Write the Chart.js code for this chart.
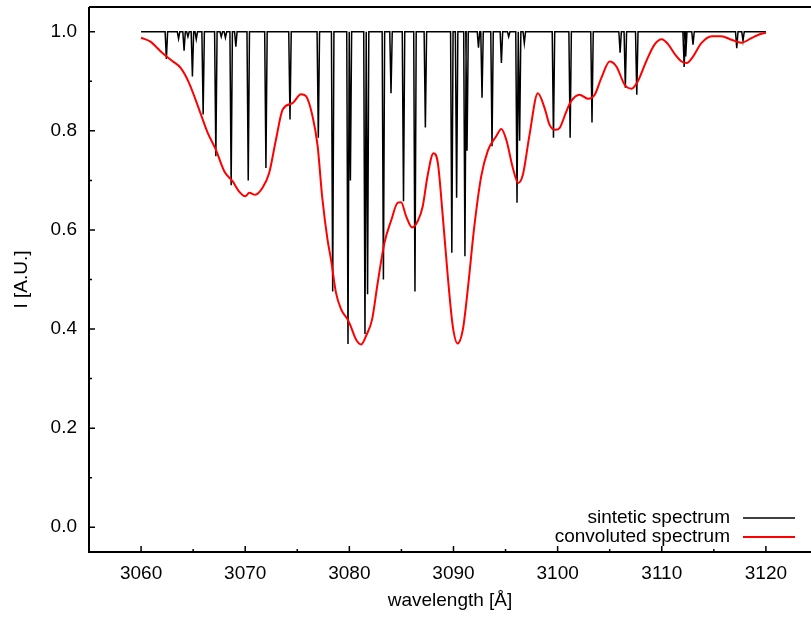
<!DOCTYPE html>
<html>
<head>
<meta charset="utf-8">
<script src="https://cdn.jsdelivr.net/npm/chart.js@4.4.0/dist/chart.umd.min.js"></script>
<style>
  html, body { margin: 0; padding: 0; background: #fff; }
</style>
</head>
<body>
<canvas id="spectrum" width="811" height="617"></canvas>
<script>
// absorption lines of the synthetic spectrum: centre [Å] and minimum intensity
const lineWl = [3062.43, 3063.6, 3064.13, 3064.5, 3064.93, 3065.3, 3065.96, 3067.18, 3067.7, 3068.1,
  3068.65, 3069.1, 3070.29, 3071.99, 3074.3, 3077.02, 3078.4, 3079.87, 3080.1, 3081.5,
  3081.75, 3083.27, 3084.0, 3085.2, 3086.3, 3087.3, 3089.84, 3090.3, 3091.1, 3091.3,
  3092.4, 3092.74, 3093.7, 3094.6, 3095.3, 3096.1, 3096.35, 3096.8, 3099.6, 3101.2,
  3103.3, 3106.0, 3106.5, 3107.6, 3112.15, 3112.3, 3113.0, 3117.2, 3117.8];
const lineMin = [0.945, 0.986, 0.962, 0.99, 0.91, 0.985, 0.833, 0.749, 0.99, 0.988,
  0.69, 0.97, 0.70, 0.725, 0.823, 0.786, 0.476, 0.37, 0.70, 0.39,
  0.47, 0.50, 0.876, 0.658, 0.476, 0.807, 0.554, 0.665, 0.547, 0.76,
  0.968, 0.867, 0.769, 0.937, 0.99, 0.655, 0.78, 0.977, 0.786, 0.786,
  0.817, 0.958, 0.887, 0.873, 0.929, 0.95, 0.974, 0.967, 0.982];

// convoluted spectrum
const convWl = [3060.0, 3060.9, 3062.05, 3063.0, 3063.8, 3064.6, 3065.58, 3066.4, 3067.18, 3068.0,
  3068.8, 3069.4, 3070.0, 3070.4, 3070.96, 3071.66, 3072.3, 3072.95, 3073.6, 3074.55,
  3075.36, 3075.84, 3076.47, 3076.95, 3077.4, 3077.9, 3078.24, 3078.72, 3079.2, 3079.84,
  3080.07, 3080.64, 3081.13, 3081.66, 3082.18, 3082.72, 3083.37, 3084.0, 3084.65, 3084.97,
  3085.45, 3086.03, 3086.57, 3087.05, 3087.5, 3088.08, 3088.5, 3088.97, 3089.45, 3089.93,
  3090.4, 3090.9, 3091.37, 3092.0, 3092.66, 3093.3, 3094.1, 3094.6, 3095.07, 3095.7,
  3096.2, 3096.67, 3097.3, 3098.1, 3098.75, 3099.23, 3099.8, 3100.2, 3100.83, 3101.3,
  3102.1, 3102.9, 3103.56, 3104.2, 3105.0, 3105.64, 3106.44, 3107.1, 3107.7, 3108.5,
  3109.3, 3110.0, 3110.6, 3111.25, 3111.9, 3112.4, 3113.0, 3113.8, 3114.8, 3115.7,
  3116.7, 3117.65, 3118.6, 3119.4, 3120.0];
const convI = [0.988, 0.980, 0.957, 0.941, 0.927, 0.897, 0.843, 0.796, 0.762, 0.718,
  0.698, 0.678, 0.668, 0.675, 0.671, 0.685, 0.715, 0.782, 0.843, 0.856,
  0.874, 0.870, 0.829, 0.770, 0.665, 0.581, 0.540, 0.473, 0.440, 0.419,
  0.409, 0.379, 0.369, 0.389, 0.419, 0.493, 0.574, 0.618, 0.655, 0.656,
  0.628, 0.605, 0.618, 0.648, 0.708, 0.755, 0.735, 0.628, 0.507, 0.406,
  0.371, 0.399, 0.480, 0.607, 0.708, 0.760, 0.789, 0.804, 0.782, 0.725,
  0.695, 0.712, 0.792, 0.876, 0.846, 0.812, 0.802, 0.806, 0.839, 0.860,
  0.873, 0.865, 0.873, 0.907, 0.940, 0.930, 0.893, 0.885, 0.900, 0.940,
  0.974, 0.985, 0.975, 0.955, 0.940, 0.937, 0.950, 0.977, 0.991, 0.991,
  0.984, 0.978, 0.987, 0.995, 0.998];

const xTicks = [3060, 3070, 3080, 3090, 3100, 3110, 3120];
const xMinorTicks = [3065, 3075, 3085, 3095, 3105, 3115];
const yTicks = [0.0, 0.2, 0.4, 0.6, 0.8, 1.0];
const yMinorTicks = [0.1, 0.3, 0.5, 0.7, 0.9];

const FONT = "'Liberation Sans', Arial, Helvetica, sans-serif";

// each line is a narrow dip from the continuum
const synthetic = [{ x: 3060, y: 1 }];
lineWl.forEach((wl, i) => {
  synthetic.push({ x: wl - 0.12, y: 1 });
  synthetic.push({ x: wl, y: lineMin[i] });
  synthetic.push({ x: wl + 0.12, y: 1 });
});
synthetic.push({ x: 3120, y: 1 });

const convoluted = convWl.map((wl, i) => ({ x: wl, y: convI[i] }));

// frame, inward ticks and the legend, gnuplot style
const frame = {
  id: 'frame',
  afterDraw(chart) {
    const { ctx, chartArea: a, scales: { x, y } } = chart;
    ctx.save();
    ctx.strokeStyle = '#000';
    ctx.lineWidth = 2;
    ctx.beginPath();
    ctx.moveTo(a.left, a.top);
    ctx.lineTo(a.right, a.top);
    ctx.moveTo(a.left, a.top);
    ctx.lineTo(a.left, a.bottom);
    ctx.lineTo(a.right, a.bottom);
    ctx.stroke();

    ctx.lineWidth = 1.5;
    ctx.beginPath();
    xTicks.forEach(v => { const p = x.getPixelForValue(v); ctx.moveTo(p, a.bottom); ctx.lineTo(p, a.bottom - 6); });
    xMinorTicks.forEach(v => { const p = x.getPixelForValue(v); ctx.moveTo(p, a.bottom); ctx.lineTo(p, a.bottom - 3); });
    yTicks.forEach(v => { const p = y.getPixelForValue(v); ctx.moveTo(a.left, p); ctx.lineTo(a.left + 6, p); });
    yMinorTicks.forEach(v => { const p = y.getPixelForValue(v); ctx.moveTo(a.left, p); ctx.lineTo(a.left + 3, p); });
    ctx.stroke();

    // legend
    ctx.font = '19px ' + FONT;
    ctx.fillStyle = '#000';
    ctx.textAlign = 'right';
    ctx.textBaseline = 'middle';
    const entries = [['sintetic spectrum', '#000', 1.5], ['convoluted spectrum', '#ff0000', 2]];
    entries.forEach(([label, color, w], i) => {
      const ly = 518 + i * 19;
      ctx.fillText(label, 730, ly);
      ctx.strokeStyle = color;
      ctx.lineWidth = w;
      ctx.beginPath();
      ctx.moveTo(743, ly);
      ctx.lineTo(795, ly);
      ctx.stroke();
    });
    ctx.restore();
  }
};

// keep the plot box fixed regardless of tick label overhang
const noOverhang = s => {
  s.paddingTop = 0;
  s.paddingBottom = 0;
  s.paddingLeft = 0;
  s.paddingRight = 0;
};

new Chart(document.getElementById('spectrum'), {
  type: 'line',
  data: {
    datasets: [
      {
        label: 'convoluted spectrum',
        data: convoluted,
        borderColor: '#ff0000',
        borderWidth: 2,
        pointRadius: 0,
        cubicInterpolationMode: 'monotone'
      },
      {
        label: 'sintetic spectrum',
        data: synthetic,
        borderColor: '#000',
        borderWidth: 1.5,
        pointRadius: 0,
        tension: 0
      }
    ]
  },
  options: {
    responsive: false,
    animation: false,
    events: [],
    layout: { padding: { top: 7, right: 0, left: 0, bottom: 0 } },
    plugins: { legend: { display: false }, tooltip: { enabled: false } },
    scales: {
      x: {
        type: 'linear',
        min: 3055,
        max: 3124.33,
        grid: { display: false, drawTicks: false },
        border: { display: false },
        afterBuildTicks: s => { s.ticks = xTicks.map(v => ({ value: v })); },
        afterFit: s => { s.height = 65; noOverhang(s); },
        ticks: {
          color: '#000',
          padding: 10,
          maxRotation: 0,
          font: { family: FONT, size: 19 },
          callback: v => String(v)
        },
        title: {
          display: true,
          text: 'wavelength [Å]',
          color: '#000',
          font: { family: FONT, size: 19 },
          padding: { top: 0, bottom: 5 }
        }
      },
      y: {
        min: -0.05,
        max: 1.05,
        grid: { display: false, drawTicks: false },
        border: { display: false },
        afterBuildTicks: s => { s.ticks = yTicks.map(v => ({ value: v })); },
        afterFit: s => { s.width = 89; noOverhang(s); },
        ticks: {
          color: '#000',
          padding: 12,
          font: { family: FONT, size: 19 },
          callback: v => v.toFixed(1)
        },
        title: {
          display: true,
          text: 'I [A.U.]',
          color: '#000',
          font: { family: FONT, size: 19 },
          padding: { top: 10, bottom: 0 }
        }
      }
    }
  },
  plugins: [frame]
});
</script>
</body>
</html>
